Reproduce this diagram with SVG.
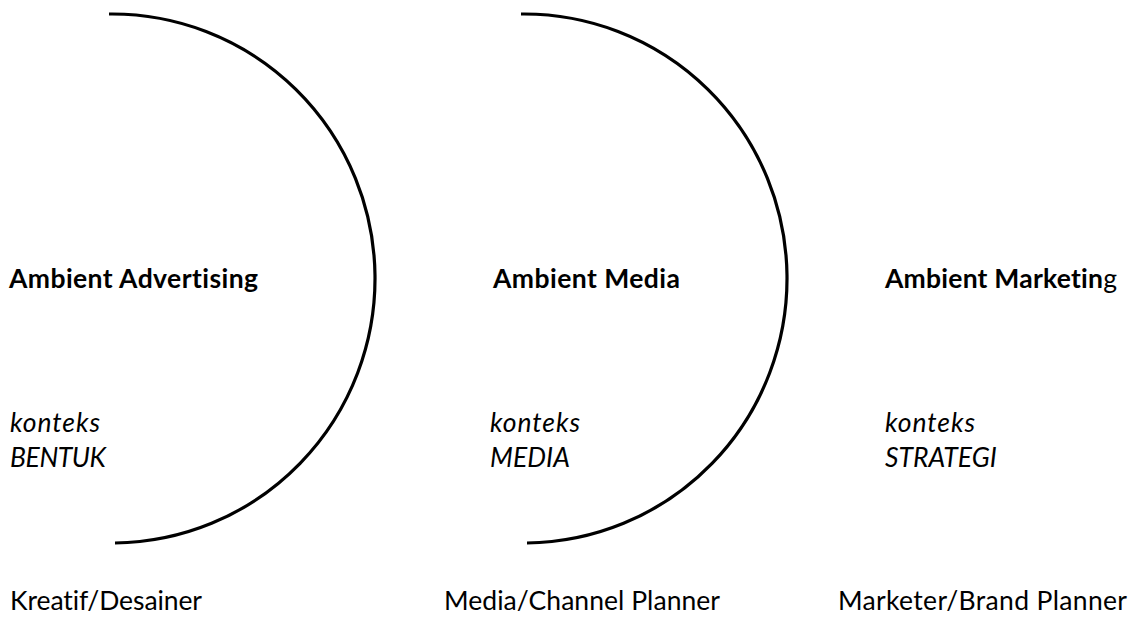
<svg xmlns="http://www.w3.org/2000/svg" width="1135" height="617" viewBox="0 0 1135 617">
<style>
text{font-family:Lato,"Open Sans","Liberation Sans",sans-serif;font-size:26.5px;fill:#000;font-variant-ligatures:none;font-feature-settings:"liga" 0,"dlig" 0}
.b{font-weight:bold}
.i{font-style:italic}
.arc{fill:none;stroke:#000;stroke-width:3.2}
</style>
<rect width="1135" height="617" fill="#fff"/>
<g id="connectors">
<path class="arc" d="M109,14 A263,264.5 0 0 1 115,543"/>
<path class="arc" d="M521,14 A263,264.5 0 0 1 527,543"/>
</g>
<g id="advertising">
<text class="b" x="9" y="288" textLength="249">Ambient Advertising</text>
<text class="i" x="10" y="432" textLength="90">konteks</text>
<text class="i" x="10" y="467" textLength="96">BENTUK</text>
<text x="10" y="610" textLength="192">Kreatif/Desainer</text>
</g>
<g id="media">
<text class="b" x="493" y="288" textLength="187">Ambient Media</text>
<text class="i" x="490" y="432" textLength="90">konteks</text>
<text class="i" x="490" y="467" textLength="80">MEDIA</text>
<text x="444" y="610" textLength="276">Media/Channel Planner</text>
</g>
<g id="marketing">
<text x="885" y="288" textLength="232"><tspan class="b">Ambient Marketin</tspan>g</text>
<text class="i" x="885" y="432" textLength="90">konteks</text>
<text class="i" x="885" y="467">STRATEGI</text>
<text x="838" y="610" textLength="289">Marketer/Brand Planner</text>
</g>
</svg>
